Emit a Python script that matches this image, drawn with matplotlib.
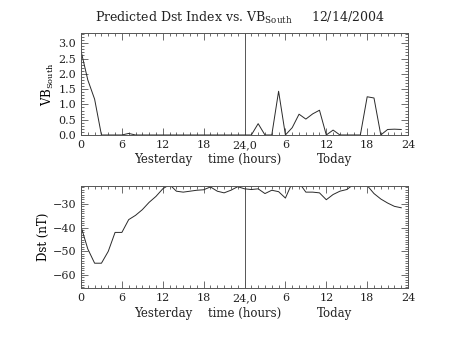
import numpy as np
import matplotlib
matplotlib.use("Agg")
import matplotlib.pyplot as plt
from matplotlib.ticker import MultipleLocator, FixedLocator, FormatStrFormatter

plt.rcParams['font.family'] = ['DejaVu Serif']
plt.rcParams['mathtext.fontset'] = 'dejavuserif'
plt.rcParams['text.color'] = '#222222'
plt.rcParams['xtick.labelcolor'] = '#222222'
plt.rcParams['ytick.labelcolor'] = '#222222'

# hourly values, hour 0 = start of yesterday
hours = np.arange(48)
vb_south = [2.75, 1.8, 1.17, 0.0, 0.0, 0.0, 0.0, 0.05, 0.0, 0.0,
            0.0, 0.0, 0.0, 0.0, 0.0, 0.0, 0.0, 0.0, 0.0, 0.0,
            0.0, 0.0, 0.0, 0.0, 0.0, 0.0, 0.37, 0.0, 0.0, 1.43,
            0.0, 0.24, 0.68, 0.52, 0.69, 0.81, 0.0, 0.16, 0.0, 0.0,
            0.0, 0.0, 1.25, 1.21, 0.0, 0.18, 0.19, 0.18]
dst = [-39.5, -49, -55, -55, -50, -42, -42, -36.6, -34.8, -32.4,
       -29.3, -26.8, -23.6, -21.8, -24.6, -25.0, -24.6, -24.2, -24.0, -22.8,
       -24.6, -25.3, -24.2, -22.7, -23.6, -23.9, -23.6, -25.6, -24.2, -24.8,
       -27.5, -21.0, -21.0, -25.0, -25.0, -25.3, -28.2, -26.0, -24.6, -23.9,
       -21.8, -21.0, -22.2, -25.6, -27.9, -29.6, -31.0, -31.6]

xticks = [0, 6, 12, 18, 24, 30, 36, 42, 48]
xticklabels = ['0', '6', '12', '18', '24,0', '6', '12', '18', '24']

fig = plt.figure(figsize=(4.53, 3.4), dpi=100)
ax1 = fig.add_axes([0.1788, 0.603, 0.722, 0.2985])
ax2 = fig.add_axes([0.1788, 0.152, 0.722, 0.301])

lc = '#2a2a2a'
for ax in (ax1, ax2):
    ax.set_xlim(0, 48)
    ax.xaxis.set_major_locator(FixedLocator(xticks))
    ax.set_xticklabels(xticklabels)
    ax.xaxis.set_minor_locator(MultipleLocator(1))
    ax.axvline(24, color='#555555', lw=0.7)
    ax.tick_params(which='both', direction='in', top=True, right=True,
                   color='#555555', labelsize=8, width=0.6)
    ax.tick_params(which='major', length=5)
    ax.tick_params(which='minor', length=2.5)
    for s in ax.spines.values():
        s.set_color('#555555')
        s.set_linewidth(0.7)
    ax.text(0.25, -0.18, 'Yesterday', transform=ax.transAxes, ha='center', va='top', fontsize=8.5)
    ax.text(0.5, -0.18, 'time (hours)', transform=ax.transAxes, ha='center', va='top', fontsize=8.5)
    ax.text(0.775, -0.18, 'Today', transform=ax.transAxes, ha='center', va='top', fontsize=8.5)

ax1.plot(hours, vb_south, color=lc, lw=0.7)
ax1.set_ylim(0, 3.32)
ax1.yaxis.set_major_locator(MultipleLocator(0.5))
ax1.yaxis.set_minor_locator(MultipleLocator(0.1))
ax1.yaxis.set_major_formatter(FormatStrFormatter('%.1f'))
ax1.set_ylabel(r'VB$_{\rm South}$', fontsize=8.5, labelpad=2)

ax2.plot(hours, dst, color=lc, lw=0.7)
ax2.set_ylim(-65.6, -22.4)
ax2.yaxis.set_major_locator(MultipleLocator(10))
ax2.yaxis.set_minor_locator(MultipleLocator(1))
ax2.set_ylabel('Dst (nT)', fontsize=8.5, labelpad=2)

fig.text(0.53, 0.947, r'Predicted Dst Index vs. VB$_{\rm South}$     12/14/2004',
         ha='center', va='center', fontsize=9)

fig.savefig('out.png', dpi=100)
